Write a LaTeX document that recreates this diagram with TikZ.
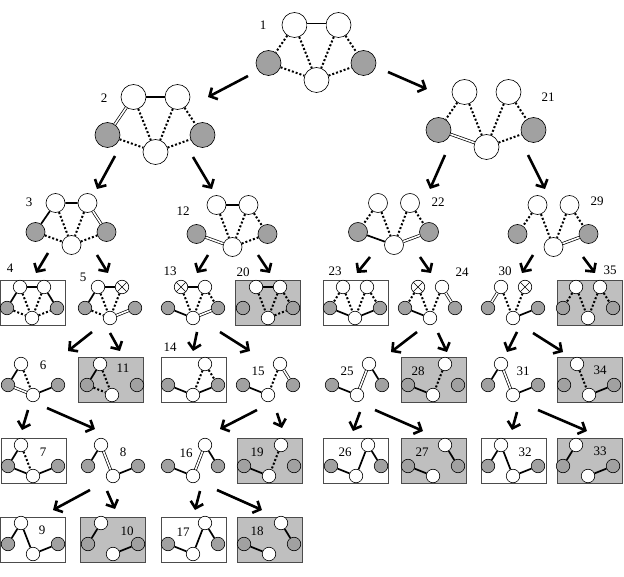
\documentclass[tikz,border=0pt]{standalone}
\usepackage{fontspec}
\setmainfont{Liberation Serif}
\usetikzlibrary{arrows.meta}

\tikzset{
  vtx/.style={circle,draw,line width=0.6pt,inner sep=0pt},
  wv/.style={vtx,fill=white},
  gv/.style={vtx,fill=black!37},
  xv/.style={wv,path picture={
      \draw[line width=0.5pt]
      (path picture bounding box.north west) -- (path picture bounding box.south east)
      (path picture bounding box.north east) -- (path picture bounding box.south west);}},
  nov/.style={draw=none,fill=none,inner sep=0pt,minimum size=0pt},
  chosen/.style={line width=1.7pt},
  undecided/.style={line width=2pt,dash pattern=on 2pt off 2pt},
  branching/.style={line width=0.7pt,double=white,double distance=1.6pt},
  okbox/.style={draw=black!70,line width=0.8pt,fill=white,minimum width=65pt,minimum height=45pt},
  failbox/.style={okbox,fill=black!25},
  lbl/.style={font=\fontsize{13}{13}\selectfont,inner sep=0pt},
  split/.style={line width=2.6pt,-{Straight Barb[length=6pt,width=13pt]}},
  % five vertex layouts, one per size
  pics/big/.style={code={
    \begin{scope}[every node/.append style={minimum size=25pt}]
      \node[wv] (-tl) at (-22,0) {};
      \node[wv] (-tr) at (22,0) {};
      \node[gv] (-l) at (-48,38) {};
      \node[gv] (-r) at (47,38) {};
      \node[wv] (-b) at (0,55) {};
    \end{scope}}},
  pics/mid/.style={code={
    \begin{scope}[every node/.append style={minimum size=19pt}]
      \node[wv] (-tl) at (-16,0) {};
      \node[wv] (-tr) at (16,0) {};
      \node[gv] (-l) at (-36,29) {};
      \node[gv] (-r) at (35,29) {};
      \node[wv] (-b) at (0,42) {};
    \end{scope}}},
  pics/small/.style 2 args={code={
    \begin{scope}[every node/.append style={minimum size=13.5pt}]
      \node[#1] (-tl) at (-12,0) {};
      \node[#2] (-tr) at (12,0) {};
      \node[gv] (-l) at (-25,21) {};
      \node[gv] (-r) at (25,21) {};
      \node[wv] (-b) at (0,31) {};
    \end{scope}}},
}

\begin{document}
\begin{tikzpicture}[x=1pt,y=-1pt]
  \useasboundingbox (0,0) rectangle (624,577);

  % leaf boxes
  \foreach \k/\x/\y in {4/32.5/302.5, 23/355.5/302.5, 14/193.5/379.5, 7/33.5/460.5,
                        26/355.5/460.5, 32/513.5/460.5, 9/32.5/539.5, 17/193.5/539.5}
    \node[okbox] (box\k) at (\x,\y) {};
  \foreach \k/\x/\y in {20/267.5/302.5, 35/589.5/302.5, 11/110.5/379.5, 28/433.5/379.5,
                        34/589.5/379.5, 19/269.5/460.5, 27/434/460.5, 33/589.5/460.5,
                        10/113/539.5, 18/269.5/539.5}
    \node[failbox] (box\k) at (\x,\y) {};

  % vertices
  \pic (g1) at (316.5,25) {big};
  \pic (g2) at (155.5,97) {big};
  \pic (g21) at (486.5,92) {big};
  \pic (g3) at (71.5,203) {mid};
  \pic (g12) at (232.5,205) {mid};
  \pic (g22) at (394,203) {mid};
  \pic (g29) at (553.5,205) {mid};

  \pic (g4) at (32,287) {small={wv}{wv}};
  \pic (g5) at (110,287) {small={wv}{xv}};
  \pic (g13) at (193,287) {small={xv}{wv}};
  \pic (g20) at (268,287) {small={wv}{wv}};
  \pic (g23) at (355,287) {small={wv}{wv}};
  \pic (g24) at (430,287) {small={xv}{wv}};
  \pic (g30) at (513,287) {small={wv}{xv}};
  \pic (g35) at (588,287) {small={wv}{wv}};

  \pic (g6) at (33,364) {small={wv}{nov}};
  \pic (g11) at (112,364) {small={wv}{nov}};
  \pic (g14) at (193,364) {small={nov}{wv}};
  \pic (g15) at (268,364) {small={nov}{wv}};
  \pic (g25) at (357,364) {small={nov}{wv}};
  \pic (g28) at (433,364) {small={nov}{wv}};
  \pic (g31) at (513,364) {small={wv}{nov}};
  \pic (g34) at (589,364) {small={wv}{nov}};

  \pic (g7) at (33,445) {small={wv}{nov}};
  \pic (g8) at (113,445) {small={wv}{nov}};
  \pic (g16) at (193,445) {small={nov}{wv}};
  \pic (g19) at (269,445) {small={nov}{wv}};
  \pic (g26) at (356,445) {small={nov}{wv}};
  \pic (g27) at (433,445) {small={nov}{wv}};
  \pic (g32) at (513,445) {small={wv}{nov}};
  \pic (g33) at (588,445) {small={wv}{nov}};

  \pic (g9) at (33,523) {small={wv}{nov}};
  \pic (g10) at (113,523) {small={wv}{nov}};
  \pic (g17) at (193,523) {small={nov}{wv}};
  \pic (g18) at (269,523) {small={nov}{wv}};

  % edges, level 1 to 3
  \draw[branching] (g1-tl) -- (g1-tr);
  \draw[undecided] (g1-tl) -- (g1-l) (g1-tl) -- (g1-b) (g1-tr) -- (g1-b)
                   (g1-tr) -- (g1-r) (g1-l) -- (g1-b) (g1-b) -- (g1-r);

  \draw[chosen] (g2-tl) -- (g2-tr);
  \draw[branching] (g2-tl) -- (g2-l);
  \draw[undecided] (g2-tl) -- (g2-b) (g2-tr) -- (g2-b) (g2-tr) -- (g2-r)
                   (g2-l) -- (g2-b) (g2-b) -- (g2-r);

  \draw[branching] (g21-l) -- (g21-b);
  \draw[undecided] (g21-tl) -- (g21-l) (g21-tl) -- (g21-b) (g21-tr) -- (g21-b)
                   (g21-tr) -- (g21-r) (g21-b) -- (g21-r);

  \draw[chosen] (g3-tl) -- (g3-tr) (g3-tl) -- (g3-l);
  \draw[branching] (g3-tr) -- (g3-r);
  \draw[undecided] (g3-tl) -- (g3-b) (g3-tr) -- (g3-b) (g3-l) -- (g3-b) (g3-b) -- (g3-r);

  \draw[chosen] (g12-tl) -- (g12-tr);
  \draw[branching] (g12-l) -- (g12-b);
  \draw[undecided] (g12-tl) -- (g12-b) (g12-tr) -- (g12-b) (g12-tr) -- (g12-r) (g12-b) -- (g12-r);

  \draw[chosen] (g22-l) -- (g22-b);
  \draw[branching] (g22-b) -- (g22-r);
  \draw[undecided] (g22-tl) -- (g22-l) (g22-tl) -- (g22-b) (g22-tr) -- (g22-b) (g22-tr) -- (g22-r);

  \draw[branching] (g29-b) -- (g29-r);
  \draw[undecided] (g29-tl) -- (g29-l) (g29-tl) -- (g29-b) (g29-tr) -- (g29-b) (g29-tr) -- (g29-r);

  % edges, level 4
  \draw[chosen] (g4-tl) -- (g4-tr) (g4-tl) -- (g4-l) (g4-tr) -- (g4-r);
  \draw[undecided] (g4-tl) -- (g4-b) (g4-tr) -- (g4-b) (g4-l) -- (g4-b) (g4-b) -- (g4-r);

  \draw[chosen] (g5-tl) -- (g5-tr) (g5-tl) -- (g5-l);
  \draw[branching] (g5-b) -- (g5-r);
  \draw[undecided] (g5-tl) -- (g5-b) (g5-tr) -- (g5-b) (g5-l) -- (g5-b);

  \draw[chosen] (g13-tl) -- (g13-tr) (g13-l) -- (g13-b);
  \draw[branching] (g13-b) -- (g13-r);
  \draw[undecided] (g13-tl) -- (g13-b) (g13-tr) -- (g13-b) (g13-tr) -- (g13-r);

  \draw[chosen] (g20-tl) -- (g20-tr);
  \draw[undecided] (g20-tl) -- (g20-b) (g20-tr) -- (g20-b) (g20-tr) -- (g20-r) (g20-b) -- (g20-r);

  \draw[chosen] (g23-l) -- (g23-b) (g23-b) -- (g23-r);
  \draw[undecided] (g23-tl) -- (g23-l) (g23-tl) -- (g23-b) (g23-tr) -- (g23-b) (g23-tr) -- (g23-r);

  \draw[chosen] (g24-l) -- (g24-b);
  \draw[branching] (g24-tr) -- (g24-r);
  \draw[undecided] (g24-tl) -- (g24-l) (g24-tl) -- (g24-b) (g24-tr) -- (g24-b);

  \draw[chosen] (g30-b) -- (g30-r);
  \draw[branching] (g30-tl) -- (g30-l);
  \draw[undecided] (g30-tl) -- (g30-b) (g30-tr) -- (g30-b);

  \draw[undecided] (g35-tl) -- (g35-l) (g35-tl) -- (g35-b) (g35-tr) -- (g35-b) (g35-tr) -- (g35-r);

  % edges, level 5
  \draw[chosen] (g6-tl) -- (g6-l) (g6-b) -- (g6-r);
  \draw[branching] (g6-l) -- (g6-b);
  \draw[undecided] (g6-tl) -- (g6-b);

  \draw[chosen] (g11-tl) -- (g11-l);
  \draw[undecided] (g11-tl) -- (g11-b) (g11-l) -- (g11-b);

  \draw[chosen] (g14-l) -- (g14-b) (g14-b) -- (g14-r);
  \draw[undecided] (g14-tr) -- (g14-b) (g14-tr) -- (g14-r);

  \draw[chosen] (g15-l) -- (g15-b);
  \draw[branching] (g15-tr) -- (g15-r);
  \draw[undecided] (g15-tr) -- (g15-b);

  \draw[chosen] (g25-l) -- (g25-b) (g25-tr) -- (g25-r);
  \draw[branching] (g25-tr) -- (g25-b);

  \draw[chosen] (g28-l) -- (g28-b);
  \draw[undecided] (g28-tr) -- (g28-b);

  \draw[chosen] (g31-tl) -- (g31-l) (g31-b) -- (g31-r);
  \draw[branching] (g31-tl) -- (g31-b);

  \draw[chosen] (g34-b) -- (g34-r);
  \draw[undecided] (g34-tl) -- (g34-b);

  % edges, level 6
  \draw[chosen] (g7-tl) -- (g7-l) (g7-l) -- (g7-b) (g7-b) -- (g7-r);
  \draw[undecided] (g7-tl) -- (g7-b);

  \draw[chosen] (g8-tl) -- (g8-l) (g8-b) -- (g8-r);
  \draw[branching] (g8-tl) -- (g8-b);

  \draw[chosen] (g16-l) -- (g16-b) (g16-tr) -- (g16-r);
  \draw[branching] (g16-tr) -- (g16-b);

  \draw[chosen] (g19-l) -- (g19-b);
  \draw[undecided] (g19-tr) -- (g19-b);

  \draw[chosen] (g26-l) -- (g26-b) (g26-tr) -- (g26-b) (g26-tr) -- (g26-r);
  \draw[chosen] (g27-l) -- (g27-b) (g27-tr) -- (g27-r);
  \draw[chosen] (g32-tl) -- (g32-l) (g32-tl) -- (g32-b) (g32-b) -- (g32-r);
  \draw[chosen] (g33-tl) -- (g33-l) (g33-b) -- (g33-r);

  % edges, level 7
  \draw[chosen] (g9-tl) -- (g9-l) (g9-tl) -- (g9-b) (g9-b) -- (g9-r);
  \draw[chosen] (g10-tl) -- (g10-l) (g10-b) -- (g10-r);
  \draw[chosen] (g17-l) -- (g17-b) (g17-tr) -- (g17-b) (g17-tr) -- (g17-r);
  \draw[chosen] (g18-l) -- (g18-b) (g18-tr) -- (g18-r);

  % labels
  \foreach \k/\x/\y in {1/263/25, 2/104/98, 21/548/97, 3/29/202, 12/183/211, 22/438/202,
                        29/597/201, 4/10/268, 5/83/277, 13/170/271, 20/243/272, 23/335/271,
                        24/462/272, 30/505/271, 35/610/270, 6/43/365, 11/123/368, 14/170/347,
                        15/258/371, 25/347/371, 28/418/371, 31/523/371, 34/600/370, 7/43/452,
                        8/123/452, 16/186/453, 19/257/452, 26/345/452, 27/422/452, 32/525/452,
                        33/600/451, 9/42/530, 10/127/531, 17/183/532, 18/257/531}
    \node[lbl] (n\k) at (\x,\y) {\k};

  % branching arrows: s = tail, e = head
  \foreach \k/\sx/\sy/\ex/\ey in {2/248/76/208/97, 21/388/72/427/89,
      3/115/156/97/189, 12/193/157/212/189, 22/445/155/430/189, 29/528/155/545/189,
      4/48/253/36/273, 5/97/255/108/273, 13/208/255/197/273, 20/258/255/270/273,
      23/370/257/357/273, 24/420/257/431/273, 30/533/255/522/273, 35/583/257/595/273,
      6/92/332/68/351, 11/110/333/120/351, 14/197/332/193/351, 15/220/332/250/351,
      25/417/332/391/352, 28/438/333/447/352, 31/517/332/507/352, 34/533/333/563/352,
      7/28/410/22/430, 8/47/408/95/429, 16/257/410/220/429, 19/277/413/282/428,
      26/360/412/353/431, 27/375/410/423/431, 32/517/412/512/430, 33/538/410/587/431,
      9/90/490/53/510, 10/107/491/115/509, 17/200/491/195/510, 18/217/490/262/510}
  {
    \coordinate (s\k) at (\sx,\sy);
    \coordinate (e\k) at (\ex,\ey);
    \draw[split] (s\k) -- (e\k);
  }
\end{tikzpicture}
\end{document}
